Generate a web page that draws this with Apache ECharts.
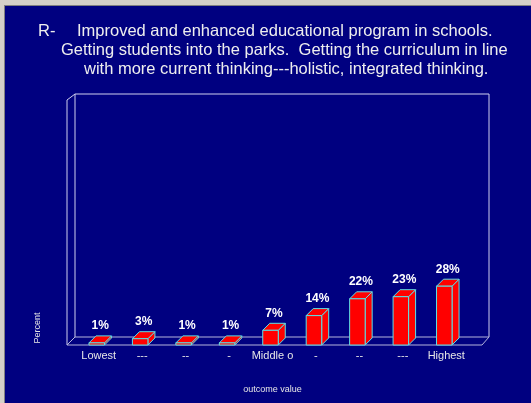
<!DOCTYPE html>
<html>
<head>
<meta charset="utf-8">
<script src="https://cdn.jsdelivr.net/npm/echarts@6/dist/echarts.min.js"></script>
<style>
  html, body { margin: 0; padding: 0; width: 531px; height: 403px; overflow: hidden; background: #d4d0c8; }
  #bg { position: absolute; left: 4px; top: 5px; right: 0; bottom: 0; background: #000080;
        border-left: 1px solid #808080; border-top: 1px solid #808080; }
  #chart { position: absolute; left: 0; top: 0; width: 531px; height: 403px; }
</style>
</head>
<body>
<div id="bg"></div>
<div id="chart"></div>
<script>
const categories = ['Lowest', '---', '--', '-', 'Middle o', '-', '--', '---', 'Highest'];
const percentValues = [1, 3, 1, 1, 7, 14, 22, 23, 28];
const titleLines = [
  'R-',
  'Improved and enhanced educational program in schools.',
  'Getting students into the parks.  Getting the curriculum in line',
  'with more current thinking---holistic, integrated thinking.'
];
const xAxisTitle = 'outcome value';
const yAxisTitle = 'Percent';

// layout
const GRID_LEFT = 77, GRID_W = 391, BASE_Y = 345, PLOT_H = 210;
const FRAME_L = 67, FRAME_R = 482, FRAME_TOP = 100, FD = 8; // frame depth
const BD = 7; // bar depth
const wallColor = '#cfcfee';
const floorColor = '#b4b4dc';

const chart = echarts.init(document.getElementById('chart'), null, { renderer: 'canvas' });

function line(x1, y1, x2, y2, color) {
  return { type: 'line', silent: true, z: 1,
    shape: { x1: x1, y1: y1, x2: x2, y2: y2 },
    style: { stroke: color, lineWidth: 1 } };
}

const frame = [
  // back wall
  line(FRAME_L + FD, FRAME_TOP - 6, FRAME_R + FD - 1, FRAME_TOP - 6, wallColor),
  line(FRAME_L + FD, FRAME_TOP - 6, FRAME_L + FD, BASE_Y - FD, wallColor),
  line(FRAME_R + FD - 1, FRAME_TOP - 6, FRAME_R + FD - 1, BASE_Y - FD, wallColor),
  // left wall front edge
  line(FRAME_L, FRAME_TOP, FRAME_L, BASE_Y, wallColor),
  line(FRAME_L, FRAME_TOP, FRAME_L + FD, FRAME_TOP - 6, wallColor),
  // floor
  line(FRAME_L + FD, BASE_Y - FD, FRAME_R + FD - 1, BASE_Y - FD, floorColor),
  line(FRAME_L, BASE_Y, FRAME_R, BASE_Y, floorColor),
  line(FRAME_L, BASE_Y, FRAME_L + FD, BASE_Y - FD, floorColor),
  line(FRAME_R, BASE_Y, FRAME_R + FD - 1, BASE_Y - FD, floorColor)
];

const titleStyle = { fill: '#eeeeee', font: '16.5px "Liberation Sans", Arial, sans-serif', verticalAlign: 'middle', align: 'left' };
const titles = [
  { x: 38, y: 31.5, t: titleLines[0] },
  { x: 77, y: 31.5, t: titleLines[1] },
  { x: 61, y: 50.5, t: titleLines[2] },
  { x: 84, y: 69, t: titleLines[3] }
].map(o => ({ type: 'text', x: o.x, y: o.y, silent: true,
  style: Object.assign({ text: o.t }, titleStyle) }));

const yName = { type: 'text', x: 38, y: 328, rotation: Math.PI / 2, silent: true,
  style: { text: yAxisTitle, fill: '#e6e6e6', font: '9px "Liberation Sans", Arial, sans-serif', align: 'center', verticalAlign: 'middle' } };

const data = percentValues.map((v, i) => [i, v]);

chart.setOption({
  backgroundColor: 'transparent',
  animation: false,
  grid: { left: GRID_LEFT, width: GRID_W, top: BASE_Y - PLOT_H, height: PLOT_H },
  xAxis: {
    type: 'category', data: categories,
    axisLine: { show: false }, axisTick: { show: false }, splitLine: { show: false },
    axisLabel: { color: '#e6e6e6', fontSize: 11, fontFamily: '"Liberation Sans", Arial, sans-serif', margin: 5, interval: 0 },
    name: xAxisTitle, nameLocation: 'middle', nameGap: 40,
    nameTextStyle: { color: '#e6e6e6', fontSize: 9, fontFamily: '"Liberation Sans", Arial, sans-serif' }
  },
  yAxis: { type: 'value', min: 0, max: 100, show: false },
  graphic: frame.concat(titles, [yName]),
  series: [{
    type: 'custom',
    data: data,
    z: 5,
    renderItem: function (params, api) {
      const idx = api.value(0), v = api.value(1);
      const top = api.coord([idx, v]);
      const base = api.coord([idx, 0]);
      const bw = api.size([1, 0])[0] * 0.357;
      const cx = top[0] - 2;
      const x0 = cx - bw / 2, x1 = cx + bw / 2, y0 = top[1], y1 = base[1];
      const st = { fill: '#ff0000', stroke: '#5ce1e6', lineWidth: 1 };
      return { type: 'group', children: [
        { type: 'polygon', shape: { points: [[x1, y0], [x1 + BD, y0 - BD], [x1 + BD, y1 - BD], [x1, y1]] }, style: st },
        { type: 'polygon', shape: { points: [[x0, y0], [x0 + BD, y0 - BD], [x1 + BD, y0 - BD], [x1, y0]] }, style: st },
        { type: 'polygon', shape: { points: [[x0, y0], [x1, y0], [x1, y1], [x0, y1]] }, style: st },
        { type: 'text', style: { text: v + '%', x: cx + BD / 2, y: y0 - BD - 10, align: 'center', verticalAlign: 'middle',
            fill: '#ffffff', font: 'bold 12px "Liberation Sans", Arial, sans-serif' } }
      ] };
    }
  }]
});
</script>
</body>
</html>
